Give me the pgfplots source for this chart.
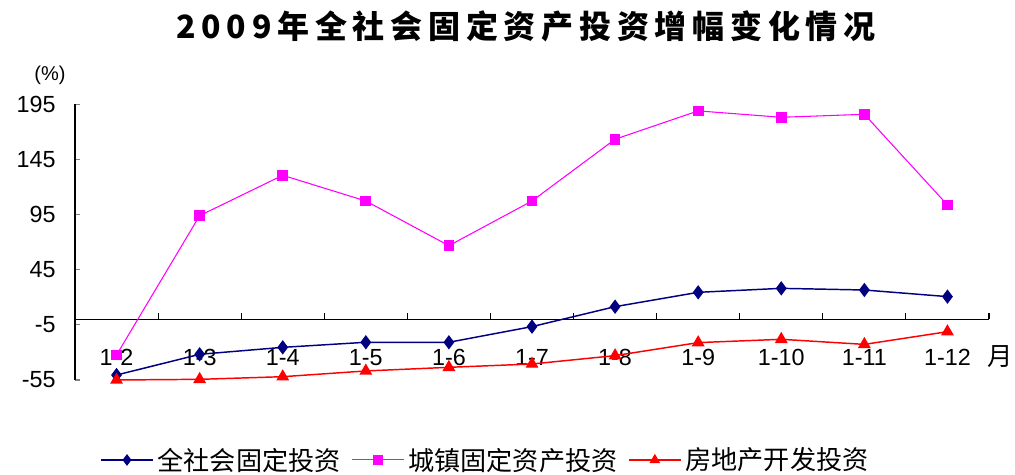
\documentclass[border=0pt]{standalone}
\usepackage{fontspec}
\setmainfont{Liberation Sans}
\newfontfamily\cjk{Noto Sans CJK SC}
\usepackage{pgfplots}
\pgfplotsset{compat=1.18}
\definecolor{navyc}{HTML}{000080}
\definecolor{magc}{HTML}{FF00FF}
\definecolor{redc}{HTML}{FF0000}

\begin{document}
\begin{tikzpicture}
\useasboundingbox (0pt,0pt) rectangle (761.25pt,356.25pt);
\node[font=\cjk\bfseries\fontsize{24}{24}\selectfont\addfontfeatures{LetterSpace=18}] at (394.5pt,336.75pt) {2009年全社会固定资产投资增幅变化情况};
\node[font=\fontsize{15}{15}\selectfont] at (37.5pt,300pt) {(\%)};
\node[font=\cjk\fontsize{19}{19}\selectfont] at (750pt,88.5pt) {月};

\begin{axis}[
    at={(56.25pt,71.25pt)}, anchor=south west,
    scale only axis, width=685.5pt, height=206.8pt,
    xmin=-0.5, xmax=10.5, ymin=-55, ymax=195,
    axis y line=left, axis x line=middle,
    axis line style={-, line width=0.8pt},
    ytick={-55,-5,45,95,145,195},
    yticklabels={-55,-5,45,95,145,195},
    ytick align=inside, major tick length=4pt,
    ytick style={line width=0.8pt},
    yticklabel style={font=\fontsize{17.5}{17.5}\selectfont, xshift=-11pt},
    xtick={0,...,10},
    xticklabels={1-2,1-3,1-4,1-5,1-6,1-7,1-8,1-9,1-10,1-11,1-12},
    xtick style={draw=none},
    xticklabel style={font=\fontsize{17.5}{17.5}\selectfont, yshift=-17pt},
    clip=false,
    legend columns=3,
    legend style={draw=none, fill=none, at={(0.02735,-0.29)}, anchor=west,
        font=\cjk\fontsize{19.6}{19.6}\selectfont, inner xsep=0pt,
        nodes={inner xsep=3pt, inner ysep=1pt},
        /tikz/every even column/.append style={column sep=5pt}},
    legend image code/.code={\draw[mark repeat=2,mark phase=2,mark size=3.5pt] plot coordinates {(0pt,0pt) (19.5pt,0pt) (39pt,0pt)};},
]
\addplot[navyc, line width=1.1pt, mark=diamond*, mark size=4.5pt, mark options={solid, fill=navyc}]
  coordinates {(0,-50.5) (1,-31.7) (2,-25.4) (3,-20.8) (4,-20.8) (5,-6.6) (6,11.5) (7,24.5) (8,28.1) (9,26.6) (10,20.6)};
\addlegendentry{全社会固定投资}
\addplot[magc, line width=0.8pt, mark=square*, mark size=3.6pt, mark options={solid, fill=magc}]
  coordinates {(0,-32.3) (1,94) (2,130.6) (3,107.3) (4,66.8) (5,107.3) (6,163.3) (7,189) (8,183.2) (9,185.9) (10,103.7)};
\addlegendentry{城镇固定资产投资}
\addplot[redc, line width=1.1pt, mark=triangle*, mark size=4.5pt, mark options={solid, fill=redc}]
  coordinates {(0,-55) (1,-54.4) (2,-52) (3,-46.8) (4,-43.5) (5,-40.5) (6,-32.9) (7,-21.1) (8,-18.1) (9,-22.7) (10,-11.2)};
\addlegendentry{房地产开发投资}
\pgfplotsinvokeforeach{0.5,1.5,2.5,3.5,4.5,5.5,6.5,7.5,8.5,9.5,10.5}{
  \draw[line width=0.8pt] (axis cs:#1,0) -- ++(0pt,5pt);
}
\end{axis}
\end{tikzpicture}
\end{document}
